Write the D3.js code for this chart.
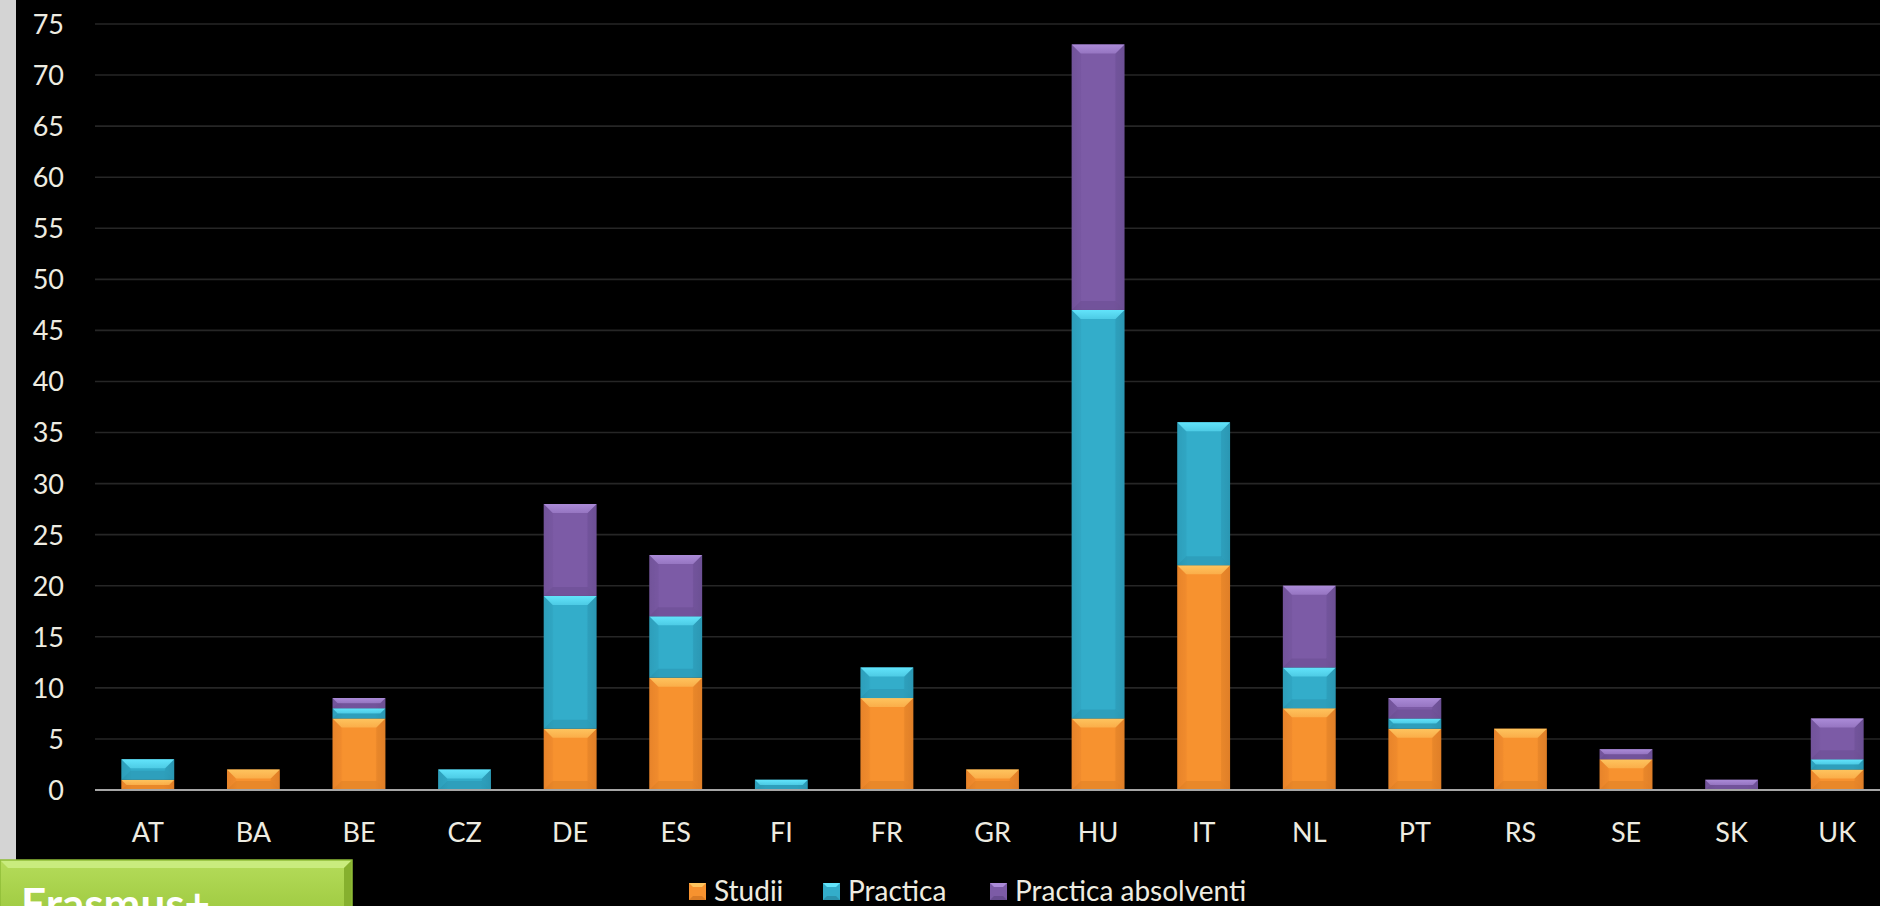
<!DOCTYPE html>
<html><head><meta charset="utf-8">
<script src="https://cdn.jsdelivr.net/npm/d3@7"></script>
<style>
html,body{margin:0;padding:0;background:#000;overflow:hidden;}
svg{display:block;}
</style></head>
<body>
<svg id="chart" width="1880" height="906"></svg>
<script>
const categories = ["AT","BA","BE","CZ","DE","ES","FI","FR","GR","HU","IT","NL","PT","RS","SE","SK","UK"];
const studii     = [1, 2, 7, 0, 6, 11, 0, 9, 2, 7, 22, 8, 6, 6, 3, 0, 2];
const practica   = [2, 0, 1, 2, 13, 6, 1, 3, 0, 40, 14, 4, 1, 0, 0, 0, 1];
const absolventi = [0, 0, 1, 0, 9, 6, 0, 0, 0, 26, 0, 8, 2, 0, 1, 1, 4];
const seriesNames = ["Studii", "Practica", "Practica absolventi"];
const yTicks = [0,5,10,15,20,25,30,35,40,45,50,55,60,65,70,75];
const boxLabel = "Erasmus+";

const W = 1880, H = 906;
const svg = d3.select("#chart");
const FONT = "Lato, 'Open Sans', sans-serif";

const palette = [
  {body:"#f7922f", light:"#fec45e", dark:"#c96f1f", edge:"#e8842a"},
  {body:"#33adca", light:"#62e4fb", dark:"#24809a", edge:"#2d9fbb"},
  {body:"#7c5ba6", light:"#ab8bd8", dark:"#5c4282", edge:"#72549a"}
];

const table = categories.map((c,i)=>({cat:c, Studii:studii[i], Practica:practica[i], "Practica absolventi":absolventi[i]}));
const stacked = d3.stack().keys(seriesNames)(table);

const x = d3.scaleBand().domain(categories).range([95, 1890]).paddingInner(0.5).paddingOuter(0.25);
const y = d3.scaleLinear().domain([0,75]).range([790, 24]);

svg.append("rect").attr("width",W).attr("height",H).attr("fill","#000");
svg.append("rect").attr("x",0).attr("y",0).attr("width",16).attr("height",862).attr("fill","#d4d4d4");

const defs = svg.append("defs");
palette.forEach((p,i)=>{
  const g = defs.append("linearGradient").attr("id","body"+i).attr("x1","0").attr("x2","1").attr("y1","0").attr("y2","0");
  g.append("stop").attr("offset","0").attr("stop-color",p.edge);
  g.append("stop").attr("offset","0.2").attr("stop-color",p.body);
  g.append("stop").attr("offset","0.8").attr("stop-color",p.body);
  g.append("stop").attr("offset","1").attr("stop-color",p.edge);
  const t = defs.append("linearGradient").attr("id","top"+i).attr("x1","0").attr("x2","0").attr("y1","0").attr("y2","1");
  t.append("stop").attr("offset","0").attr("stop-color",p.light);
  t.append("stop").attr("offset","1").attr("stop-color",p.light).attr("stop-opacity",0.55);
});
const gg = defs.append("linearGradient").attr("id","greenBox").attr("x1","0").attr("x2","0").attr("y1","0").attr("y2","1");
gg.append("stop").attr("offset","0").attr("stop-color","#b5dc5a");
gg.append("stop").attr("offset","1").attr("stop-color","#9cc83e");

const grid = svg.append("g");
grid.selectAll("line").data(yTicks.filter(t=>t>0)).join("line")
  .attr("x1",95).attr("x2",W).attr("y1",d=>y(d)).attr("y2",d=>y(d))
  .attr("stroke","#262626").attr("stroke-width",1.6);

const yAxis = d3.axisLeft(y).tickValues(yTicks).tickSize(0).tickPadding(0);
const ya = svg.append("g").attr("transform","translate(64,0)").call(yAxis);
ya.select(".domain").remove();
ya.selectAll("text").attr("fill","#eeece1").attr("font-family",FONT).attr("font-size",27).attr("dy","0.35em");

const bev = 9;
stacked.forEach((layer,si)=>{
  const p = palette[si];
  const g = svg.append("g");
  layer.forEach((d,i)=>{
    const v = d[1]-d[0];
    if (v <= 0) return;
    const x0 = x(categories[i]), w = x.bandwidth();
    const y0 = y(d[1]), h = y(d[0]) - y(d[1]);
    const b = Math.min(bev, h/2, w/2);
    g.append("rect").attr("x",x0).attr("y",y0).attr("width",w).attr("height",h).attr("fill","url(#body"+si+")");
    g.append("polygon").attr("points",[[x0,y0],[x0+b,y0+b],[x0+b,y0+h-b],[x0,y0+h]].join(" ")).attr("fill",p.edge).attr("opacity",0.35);
    g.append("polygon").attr("points",[[x0+w,y0],[x0+w-b,y0+b],[x0+w-b,y0+h-b],[x0+w,y0+h]].join(" ")).attr("fill",p.dark).attr("opacity",0.25);
    g.append("polygon").attr("points",[[x0,y0],[x0+w,y0],[x0+w-b,y0+b],[x0+b,y0+b]].join(" ")).attr("fill","url(#top"+si+")");
    g.append("polygon").attr("points",[[x0,y0+h],[x0+w,y0+h],[x0+w-b,y0+h-b],[x0+b,y0+h-b]].join(" ")).attr("fill",p.dark).attr("opacity",0.3);
  });
});

svg.append("line").attr("x1",95).attr("x2",W).attr("y1",y(0)).attr("y2",y(0)).attr("stroke","#a6a6a6").attr("stroke-width",2.2);

const xAxis = d3.axisBottom(x).tickSize(0).tickPadding(0);
const xa = svg.append("g").attr("transform","translate(0,833)").call(xAxis);
xa.select(".domain").remove();
xa.selectAll("text").attr("fill","#eeece1").attr("font-family",FONT).attr("font-size",27).attr("dy","0.35em");

const legendX = [689, 823, 990];
const lg = svg.append("g");
seriesNames.forEach((n,i)=>{
  const p = palette[i];
  const gx = legendX[i], gy = 883, s = 17;
  lg.append("rect").attr("x",gx).attr("y",gy).attr("width",s).attr("height",s).attr("fill",p.body);
  lg.append("polygon").attr("points",[[gx,gy],[gx+s,gy],[gx+s-4,gy+4],[gx+4,gy+4]].join(" ")).attr("fill",p.light);
  lg.append("polygon").attr("points",[[gx,gy+s],[gx+s,gy+s],[gx+s-4,gy+s-4],[gx+4,gy+s-4]].join(" ")).attr("fill",p.dark).attr("opacity",0.6);
  lg.append("text").attr("x",gx+s+8).attr("y",gy+s/2).attr("dy","0.35em")
    .attr("fill","#eeece1").attr("font-family",FONT).attr("font-size",28).text(n);
});

const bx = svg.append("g");
bx.append("rect").attr("x",0).attr("y",860).attr("width",352).attr("height",60).attr("fill","url(#greenBox)");
bx.append("polygon").attr("points","0,860 352,860 344,868 8,868").attr("fill","#c9ec7e");
bx.append("polygon").attr("points","352,860 352,906 344,906 344,868").attr("fill","#86b02e");
bx.append("rect").attr("x",0).attr("y",860).attr("width",352).attr("height",60).attr("fill","none").attr("stroke","#8fbc37").attr("stroke-width",1.5);
bx.append("text").attr("x",21).attr("y",920).attr("fill","#ffffff").attr("font-family",FONT)
  .attr("font-weight","bold").attr("font-size",44).text(boxLabel);
</script>
</body></html>
